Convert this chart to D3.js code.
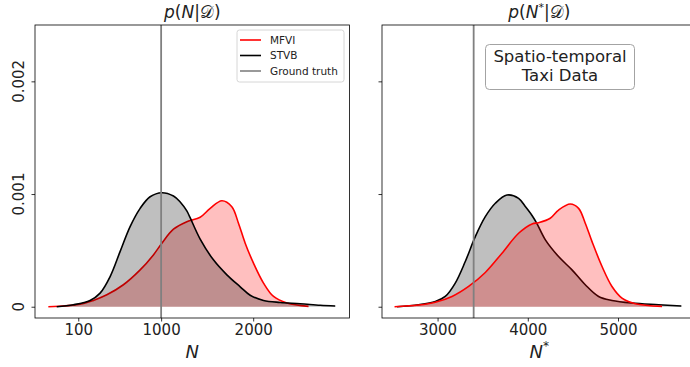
<!DOCTYPE html>
<html>
<head>
<meta charset="utf-8">
<script src="https://cdn.jsdelivr.net/npm/d3@7/dist/d3.min.js"></script>
<style>
  html, body { margin: 0; padding: 0; background: #fff; }
  svg { display: block; font-family: "DejaVu Sans", sans-serif; }
</style>
</head>
<body>
<svg id="chart" width="690" height="367"></svg>
<script>
// Posterior densities of the total count N and the predicted count N*.
const nGridMfvi      = [-225, 120, 264, 410, 590, 772, 916, 1008, 1134, 1279, 1424, 1533, 1660, 1768, 1840, 1913, 2003, 2112, 2221, 2366, 2601];
const nDensityMfvi   = [0, 2.2e-5, 5.6e-5, 1.06e-4, 1.95e-4, 3.27e-4, 4.6e-4, 5.64e-4, 6.88e-4, 7.55e-4, 7.94e-4, 8.73e-4, 9.41e-4, 8.88e-4, 7.41e-4, 5.64e-4, 3.87e-4, 2.1e-4, 9.1e-5, 3.3e-5, 3e-6];
const nGridStvb      = [-134, 47, 228, 337, 446, 554, 663, 772, 880, 1008, 1134, 1207, 1279, 1315, 1424, 1568, 1714, 1859, 1967, 2112, 2293, 2511, 2728, 2891];
const nDensityStvb   = [0, 1.8e-5, 5.6e-5, 1.21e-4, 2.68e-4, 4.89e-4, 7.11e-4, 8.73e-4, 9.76e-4, 1.012e-3, 9.82e-4, 9.3e-4, 8.5e-4, 7.9e-4, 6.0e-4, 4.16e-4, 2.83e-4, 1.77e-4, 1.02e-4, 5.6e-5, 3.8e-5, 2.7e-5, 1.3e-5, 6e-6];

const nsGridMfvi     = [2523, 2789, 2975, 3160, 3344, 3529, 3714, 3898, 4047, 4120, 4249, 4341, 4471, 4563, 4637, 4712, 4823, 4933, 5044, 5192, 5488];
const nsDensityMfvi  = [0, 1.5e-5, 4.0e-5, 9.1e-5, 1.8e-4, 3.04e-4, 4.75e-4, 6.52e-4, 7.35e-4, 7.46e-4, 7.85e-4, 8.58e-4, 9.12e-4, 8.73e-4, 7.41e-4, 5.78e-4, 3.57e-4, 1.8e-4, 7.7e-5, 2.7e-5, 3e-6];
const nsGridStvb     = [2550, 2789, 2975, 3085, 3196, 3307, 3418, 3529, 3640, 3769, 3898, 3972, 4047, 4100, 4195, 4341, 4490, 4637, 4785, 4933, 5155, 5450, 5702];
const nsDensityStvb  = [0, 1.8e-5, 4.7e-5, 9.1e-5, 2.1e-4, 4.01e-4, 6.22e-4, 7.99e-4, 9.18e-4, 9.91e-4, 9.62e-4, 8.9e-4, 8.1e-4, 7.4e-4, 5.93e-4, 4.45e-4, 3.27e-4, 1.95e-4, 9.1e-5, 5.6e-5, 3.3e-5, 1.8e-5, 6e-6];

const groundTruthN  = 1000;
const groundTruthNs = 3400;

const xTicksN  = [100, 1000, 2000];
const xTicksNs = [3000, 4000, 5000];
const yTicks      = [0, 0.001, 0.002];
const yTickLabels = ["0", "0.001", "0.002"];

const legendLabels = ["MFVI", "STVB", "Ground truth"];
const legendColors = ["#ff0000", "#000000", "#808080"];

const zip = (xs, ys) => xs.map((x, i) => ({ x, y: ys[i] }));

const svg = d3.select("#chart");
const plotTop = 25, plotBottom = 318;
const y = d3.scaleLinear().domain([-0.0001, 0.0025]).range([plotBottom, plotTop]);

const defs = svg.append("defs");
const smooth = d3.curveCatmullRom.alpha(0.5);

function panel(cfg) {
  const x = d3.scaleLinear().domain(cfg.domain).range([cfg.x0, cfg.x1]);
  const g = svg.append("g");
  const clipId = "clip-" + cfg.id;
  defs.append("clipPath").attr("id", clipId).append("rect")
    .attr("x", cfg.x0).attr("y", plotTop).attr("width", cfg.x1 - cfg.x0).attr("height", plotBottom - plotTop);
  const plot = g.append("g").attr("clip-path", `url(#${clipId})`);

  const area = d3.area().x(d => x(d.x)).y0(y(0)).y1(d => y(d.y)).curve(smooth);
  const line = d3.line().x(d => x(d.x)).y(d => y(d.y)).curve(smooth);

  cfg.series.forEach(s => {
    plot.append("path").datum(s.data).attr("d", area)
      .attr("fill", s.fill).attr("fill-opacity", 0.25).attr("stroke", "none");
    plot.append("path").datum(s.data).attr("d", line)
      .attr("fill", "none").attr("stroke", s.color).attr("stroke-width", 1.6);
  });

  // ground-truth marker
  plot.append("line")
    .attr("x1", x(cfg.truth)).attr("x2", x(cfg.truth))
    .attr("y1", plotTop).attr("y2", plotBottom)
    .attr("stroke", "#808080").attr("stroke-width", 1.8);

  // x axis
  const xAxis = g.append("g").attr("transform", `translate(0,${plotBottom})`)
    .call(d3.axisBottom(x).tickValues(cfg.xTicks).tickSize(3.5).tickPadding(3).tickFormat(d3.format("d")));
  xAxis.select(".domain").remove();
  xAxis.selectAll("line").attr("stroke", "#000").attr("stroke-width", 0.8);
  xAxis.selectAll("text").attr("font-size", 15).attr("fill", "#222")
    .attr("font-family", "DejaVu Sans, sans-serif");

  // y axis ticks
  const yAxis = g.append("g").attr("transform", `translate(${cfg.x0},0)`)
    .call(d3.axisLeft(y).tickValues(yTicks).tickSize(3.5).tickFormat(""));
  yAxis.select(".domain").remove();
  yAxis.selectAll("line").attr("stroke", "#000").attr("stroke-width", 0.8);

  if (cfg.yLabels) {
    yTicks.forEach((t, i) => {
      g.append("text")
        .attr("transform", `translate(${cfg.x0 - 16},${y(t)}) rotate(-90)`)
        .attr("text-anchor", "middle").attr("dy", "0.35em")
        .attr("font-size", 15).attr("fill", "#222").text(yTickLabels[i]);
    });
  }

  // frame
  g.append("rect").attr("x", cfg.x0).attr("y", plotTop)
    .attr("width", cfg.x1 - cfg.x0).attr("height", plotBottom - plotTop)
    .attr("fill", "none").attr("stroke", "#000").attr("stroke-width", 0.8);

  // title
  const cx = (cfg.x0 + cfg.x1) / 2;
  const title = g.append("text").attr("x", cx).attr("y", 18)
    .attr("text-anchor", "middle").attr("font-size", 17).attr("fill", "#222");
  title.append("tspan").attr("font-style", "italic").text("p");
  title.append("tspan").text("(");
  title.append("tspan").attr("font-style", "italic").text("N");
  if (cfg.star) title.append("tspan").attr("font-size", 11).attr("dy", -7).text("*");
  title.append("tspan").attr("dy", cfg.star ? 7 : 0).text("|");
  title.append("tspan").attr("font-family", "DejaVu Sans, Noto Sans, sans-serif").text("\u{1D49F}");
  title.append("tspan").text(")");

  // x label
  const xl = g.append("text").attr("x", cx).attr("y", 358)
    .attr("text-anchor", "middle").attr("font-size", 18).attr("fill", "#222");
  xl.append("tspan").attr("font-style", "italic").text("N");
  if (cfg.star) xl.append("tspan").attr("font-size", 12).attr("dy", -8).text("*");

  return { x, g };
}

// left panel: N
const left = panel({
  id: "n", x0: 35, x1: 349.5, domain: [-370, 3046],
  truth: groundTruthN, xTicks: xTicksN, yLabels: true, star: false,
  series: [
    { data: zip(nGridMfvi, nDensityMfvi), color: "#ff0000", fill: "#ff0000" },
    { data: zip(nGridStvb, nDensityStvb), color: "#000000", fill: "#000000" }
  ]
});

// right panel: N*
const right = panel({
  id: "ns", x0: 382, x1: 696.5, domain: [2384, 5870],
  truth: groundTruthNs, xTicks: xTicksNs, yLabels: false, star: true,
  series: [
    { data: zip(nsGridStvb, nsDensityStvb), color: "#000000", fill: "#000000" },
    { data: zip(nsGridMfvi, nsDensityMfvi), color: "#ff0000", fill: "#ff0000" }
  ]
});

// legend (left panel)
const lg = svg.append("g");
lg.append("rect").attr("x", 237).attr("y", 30).attr("width", 107).attr("height", 52)
  .attr("rx", 2.5).attr("fill", "#fff").attr("fill-opacity", 0.8)
  .attr("stroke", "#cccccc").attr("stroke-width", 0.8);
legendLabels.forEach((lab, i) => {
  const yy = 40 + i * 15.5;
  lg.append("line").attr("x1", 240).attr("x2", 261).attr("y1", yy).attr("y2", yy)
    .attr("stroke", legendColors[i]).attr("stroke-width", 1.6);
  lg.append("text").attr("x", 270).attr("y", yy).attr("dy", "0.35em")
    .attr("font-size", 10.5).attr("fill", "#222").text(lab);
});

// annotation (right panel)
const an = svg.append("g");
an.append("rect").attr("x", 485.5).attr("y", 44.5).attr("width", 149).attr("height", 45)
  .attr("rx", 4).attr("fill", "#fff").attr("stroke", "#999").attr("stroke-width", 0.9);
an.append("text").attr("x", 560).attr("y", 62).attr("text-anchor", "middle")
  .attr("font-size", 16.5).attr("fill", "#222").text("Spatio-temporal");
an.append("text").attr("x", 560).attr("y", 81).attr("text-anchor", "middle")
  .attr("font-size", 16.5).attr("fill", "#222").text("Taxi Data");
</script>
</body>
</html>
